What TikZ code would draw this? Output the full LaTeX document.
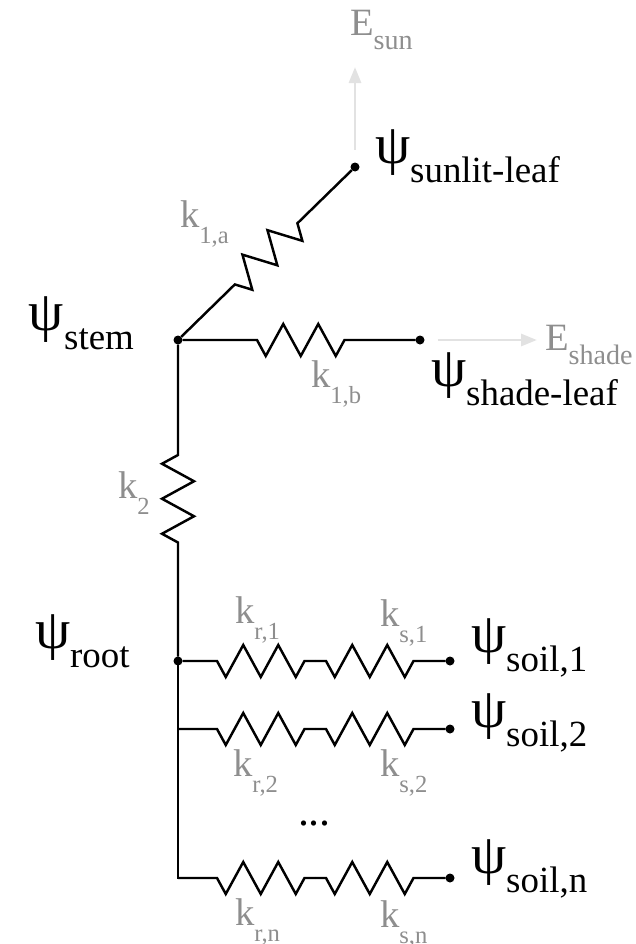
\documentclass[tikz,border=0pt]{standalone}
\usepackage{fontspec}
\setmainfont{Liberation Serif}
\usepackage{tikz}
\usetikzlibrary{arrows.meta, decorations.pathmorphing}
\newcommand{\psilab}[1]{{\fontsize{16}{18}\selectfont ψ}\raisebox{-5.5pt}{\fontsize{10.5}{12}\selectfont #1}}
\newcommand{\klab}[2]{{\fontsize{11}{13}\selectfont k}\raisebox{-4.6pt}{\fontsize{7}{8}\selectfont #2}}
\newcommand{\elab}[1]{{\fontsize{11}{13}\selectfont E}\raisebox{-4pt}{\fontsize{8}{9}\selectfont #1}}
\definecolor{labgray}{HTML}{8E8E8E}
\definecolor{fluxgray}{HTML}{E2E2E2}
\begin{document}
\begin{tikzpicture}
      [every node/.style={inner sep=0pt,outer sep=0pt,anchor=base west},
       dot/.style={circle,fill=black,minimum size=.09cm,anchor=center},
       wire/.style={line width=.7pt,line cap=rect},
       spring/.style 2 args={wire,line cap=butt,decorate,decoration={zigzag,segment length=.35cm,amplitude=-.16cm,pre length=#1,post length=#2}},
       flux/.style={fluxgray,line width=.85pt,-{Triangle[length=.16cm,width=.12cm]}},
       klabel/.style={text=labgray}]
      \useasboundingbox (0,0) rectangle (6.36,-9.44);

      % junctions and end points
      \node[dot] (stem) at (1.78,-3.40) {};
      \node[dot] (sunlit) at (3.55,-1.67) {};
      \node[dot] (shade) at (4.20,-3.40) {};
      \node[dot] (root) at (1.78,-6.61) {};
      \node[dot] (soilA) at (4.50,-6.61) {};
      \node[dot] (soilB) at (4.50,-7.29) {};
      \node[dot] (soilN) at (4.50,-8.78) {};
      \coordinate (branchB) at (1.78,-7.29);
      \coordinate (branchN) at (1.78,-8.78);
      \coordinate (midA) at (3.15,-6.61);
      \coordinate (midB) at (3.15,-7.29);
      \coordinate (midN) at (3.15,-8.78);
      \coordinate (sunflux) at (3.55,-.67);
      \coordinate (shadeflux) at (5.37,-3.40);

      % water potentials
      \node (psisunlit) at (3.75,-1.635) {\psilab{sunlit-leaf}};
      \node (psistem) at (.29,-3.305) {\psilab{stem}};
      \node (psishade) at (4.31,-3.865) {\psilab{shade-leaf}};
      \node (psiroot) at (.35,-6.485) {\psilab{root}};
      \node (psisoilA) at (4.71,-6.525) {\psilab{soil,1}};
      \node (psisoilB) at (4.71,-7.275) {\psilab{soil,2}};
      \node (psisoilN) at (4.71,-8.735) {\psilab{soil,n}};

      % conductances
      \node[klabel] (kA) at (1.80,-2.27) {\klab{k}{1,a}};
      \node[klabel] (kB) at (3.11,-3.87) {\klab{k}{1,b}};
      \node[klabel] (kstem) at (1.18,-4.98) {\klab{k}{2}};
      \node[klabel] (krA) at (2.35,-6.23) {\klab{k}{r,1}};
      \node[klabel] (ksA) at (3.80,-6.26) {\klab{k}{s,1}};
      \node[klabel] (krB) at (2.33,-7.76) {\klab{k}{r,2}};
      \node[klabel] (ksB) at (3.80,-7.76) {\klab{k}{s,2}};
      \node[klabel] (krN) at (2.35,-9.25) {\klab{k}{r,n}};
      \node[klabel] (ksN) at (3.80,-9.27) {\klab{k}{s,n}};

      % transpiration
      \node[klabel] (Esun) at (3.50,-.35) {\elab{sun}};
      \node[klabel] (Eshade) at (5.45,-3.50) {\elab{shade}};
      \node (dots) at (2.98,-8.25) {\fontsize{12.5}{14}\selectfont ...};

      \draw[spring={.75cm}{.755cm}] (stem) -- (sunlit);
      \draw[spring={.745cm}{.705cm}] (stem) -- (shade);
      \draw[spring={1.105cm}{1.135cm}] (stem) -- (root);
      \draw[wire] (root) -- (branchB) -- (branchN);

      \foreach \from/\mid/\to/\gap in {root/midA/soilA/.345cm,branchB/midB/soilB/.39cm,branchN/midN/soilN/.39cm}
      {
        \draw[spring={\gap}{.1cm}] (\from) -- (\mid);
        \draw[spring={.11cm}{.31cm}] (\mid) -- (\to);
      }

      \draw[flux,shorten <=.125cm] (sunlit) -- (sunflux);
      \draw[flux,shorten <=.13cm] (shade) -- (shadeflux);
\end{tikzpicture}
\end{document}
